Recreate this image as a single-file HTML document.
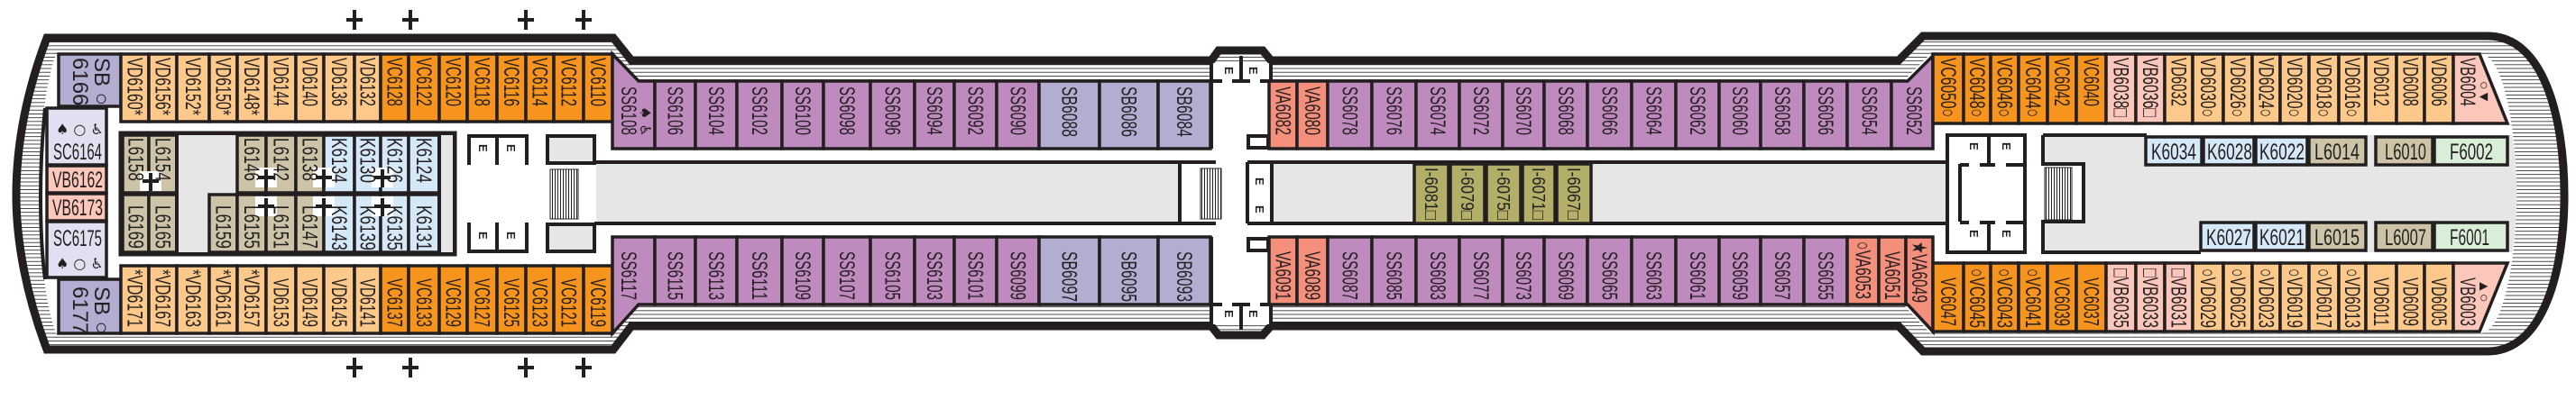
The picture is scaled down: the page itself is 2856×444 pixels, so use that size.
<!DOCTYPE html>
<html><head><meta charset="utf-8"><style>
html,body{margin:0;padding:0;background:#fff;}
svg{display:block;}
.c{stroke:#231f20;stroke-width:3.5;}
.vd{fill:#fcc98b}.vc{fill:#f7941d}.ss{fill:#bf8bbf}.sb{fill:#b2aed2}.va{fill:#f48f7c}.vb{fill:#fcc7bb}
.l{fill:#cdc3a7}.k{fill:#d5e8f8}.f{fill:#d9eed6}.i{fill:#b3ae68}.sc{fill:#e2dff0}.g{fill:#e6e6e6}
text{font-family:"Liberation Sans Narrow","Liberation Sans",sans-serif;fill:#231f20;}
.t{font-size:24px;}
.h{font-size:25px;}
.ic{font-family:"DejaVu Sans",sans-serif;font-size:16px;fill:#231f20;}
.e{font-size:13px;fill:#1a3a8a;font-weight:bold;}
.w{fill:none;stroke:#231f20;stroke-width:4;}
</style></head><body>
<svg width="2856" height="444" viewBox="0 0 2856 444" xmlns="http://www.w3.org/2000/svg">
<defs>
<pattern id="hz" width="10" height="4.2" patternUnits="userSpaceOnUse"><rect width="10" height="4.2" fill="#fff"/><rect y="0" width="10" height="0.8" fill="#231f20"/></pattern>
<pattern id="st" width="3" height="10" patternUnits="userSpaceOnUse"><rect width="3" height="10" fill="#fff"/><rect width="1" height="10" fill="#231f20"/></pattern>
</defs>

<!-- hull -->
<path d="M52,42 L680,42 L700,67 L1343,67 L1351,56 L1400,56 L1409,67 L2105,67 L2132,40 L2758,40 C2820,40 2843,130 2843,217 C2843,300 2820,390 2758,390 L2132,390 L2105,362 L1409,362 L1400,372 L1351,372 L1343,362 L700,362 L680,388 L52,388 C30,330 18,270 18,217 C18,160 30,100 52,42 Z" fill="url(#hz)" stroke="#231f20" stroke-width="9"/>
<!-- inner deck -->
<path d="M62,60 L679,60 L708,90 L1343,90 L1343,338 L708,338 L679,370 L62,370 C48,330 44,270 44,217 C44,160 48,100 62,60 Z" fill="#fff"/>
<path d="M1409,90 L2110,90 L2140,60 L2750,60 C2775,60 2790,140 2790,217 C2790,290 2775,370 2750,370 L2140,370 L2110,338 L1409,338 Z" fill="#fff"/>
<rect x="1343" y="90" width="66" height="248" fill="#fff"/>
<path d="M50,120 C46,160 45,190 45,217 C45,250 46,280 50,310" class="w" stroke-width="6"/>

<!-- plus signs -->
<g stroke="#231f20" stroke-width="4">
<path d="M384,22h18M393,11v22M446,22h18M455,11v22M574,22h18M583,11v22M638,22h18M647,11v22"/>
<path d="M384,408h18M393,397v22M446,408h18M455,397v22M574,408h18M583,397v22M638,408h18M647,397v22"/>
</g>

<!-- LEFT BOW ROOMS -->
<rect class="c sb" x="65" y="60" width="69" height="58"/>
<text class="t" transform="translate(112,64) rotate(90)" y="7">SB ○</text>
<text class="t" transform="translate(88,64) rotate(90)" y="7">6166</text>
<rect class="c sc" x="52" y="120" width="66" height="63"/>
<text class="ic" x="62" y="149">♠ ○ ♿&#xFE0E;</text>
<text class="h" x="59" y="177" textLength="54" lengthAdjust="spacingAndGlyphs">SC6164</text>
<rect class="c vb" x="52" y="184" width="66" height="30"/>
<text class="h" x="58" y="208" textLength="56" lengthAdjust="spacingAndGlyphs">VB6162</text>
<rect class="c vb" x="52" y="215" width="66" height="30"/>
<text class="h" x="58" y="239" textLength="56" lengthAdjust="spacingAndGlyphs">VB6173</text>
<rect class="c sc" x="52" y="246" width="66" height="62"/>
<text class="h" x="59" y="273" textLength="54" lengthAdjust="spacingAndGlyphs">SC6175</text>
<text class="ic" x="62" y="298">♠ ○ ♿&#xFE0E;</text>
<rect class="c sb" x="65" y="310" width="69" height="60"/>
<text class="t" transform="translate(112,318) rotate(90)" y="7">SB ○</text>
<text class="t" transform="translate(88,318) rotate(90)" y="7">6177</text>

<!-- LEFT TOP ROW -->
<g class="c">
<rect class="vd" x="134" y="60" width="31" height="75"/><rect class="vd" x="165" y="60" width="31" height="75"/><rect class="vd" x="196" y="60" width="36" height="75"/><rect class="vd" x="232" y="60" width="31" height="75"/><rect class="vd" x="263" y="60" width="32" height="75"/><rect class="vd" x="295" y="60" width="33" height="75"/><rect class="vd" x="328" y="60" width="31" height="75"/><rect class="vd" x="359" y="60" width="34" height="75"/><rect class="vd" x="393" y="60" width="29" height="75"/>
<rect class="vc" x="422" y="60" width="31" height="75"/><rect class="vc" x="453" y="60" width="34" height="75"/><rect class="vc" x="487" y="60" width="31" height="75"/><rect class="vc" x="518" y="60" width="33" height="75"/><rect class="vc" x="551" y="60" width="32" height="75"/><rect class="vc" x="583" y="60" width="31" height="75"/><rect class="vc" x="614" y="60" width="33" height="75"/><rect class="vc" x="647" y="60" width="32" height="75"/>
</g>
<g class="t">
<text transform="translate(149.5,64) rotate(90)" y="8" textLength="64" lengthAdjust="spacingAndGlyphs">VD6160*</text>
<text transform="translate(180.5,64) rotate(90)" y="8" textLength="64" lengthAdjust="spacingAndGlyphs">VD6156*</text>
<text transform="translate(214,64) rotate(90)" y="8" textLength="64" lengthAdjust="spacingAndGlyphs">VD6152*</text>
<text transform="translate(247.5,64) rotate(90)" y="8" textLength="64" lengthAdjust="spacingAndGlyphs">VD6150*</text>
<text transform="translate(279,64) rotate(90)" y="8" textLength="64" lengthAdjust="spacingAndGlyphs">VD6148*</text>
<text transform="translate(311.5,64) rotate(90)" y="8" textLength="54" lengthAdjust="spacingAndGlyphs">VD6144</text>
<text transform="translate(343.5,64) rotate(90)" y="8" textLength="54" lengthAdjust="spacingAndGlyphs">VD6140</text>
<text transform="translate(376,64) rotate(90)" y="8" textLength="54" lengthAdjust="spacingAndGlyphs">VD6136</text>
<text transform="translate(407.5,64) rotate(90)" y="8" textLength="54" lengthAdjust="spacingAndGlyphs">VD6132</text>
<text transform="translate(437.5,64) rotate(90)" y="8" textLength="54" lengthAdjust="spacingAndGlyphs">VC6128</text>
<text transform="translate(470,64) rotate(90)" y="8" textLength="54" lengthAdjust="spacingAndGlyphs">VC6122</text>
<text transform="translate(502.5,64) rotate(90)" y="8" textLength="54" lengthAdjust="spacingAndGlyphs">VC6120</text>
<text transform="translate(534.5,64) rotate(90)" y="8" textLength="54" lengthAdjust="spacingAndGlyphs">VC6118</text>
<text transform="translate(567,64) rotate(90)" y="8" textLength="54" lengthAdjust="spacingAndGlyphs">VC6116</text>
<text transform="translate(598.5,64) rotate(90)" y="8" textLength="54" lengthAdjust="spacingAndGlyphs">VC6114</text>
<text transform="translate(630.5,64) rotate(90)" y="8" textLength="54" lengthAdjust="spacingAndGlyphs">VC6112</text>
<text transform="translate(663,64) rotate(90)" y="8" textLength="54" lengthAdjust="spacingAndGlyphs">VC6110</text>
</g>

<!-- LEFT BOTTOM ROW -->
<g class="c">
<rect class="vd" x="134" y="295" width="31" height="75"/><rect class="vd" x="165" y="295" width="31" height="75"/><rect class="vd" x="196" y="295" width="36" height="75"/><rect class="vd" x="232" y="295" width="31" height="75"/><rect class="vd" x="263" y="295" width="32" height="75"/><rect class="vd" x="295" y="295" width="33" height="75"/><rect class="vd" x="328" y="295" width="31" height="75"/><rect class="vd" x="359" y="295" width="34" height="75"/><rect class="vd" x="393" y="295" width="29" height="75"/>
<rect class="vc" x="422" y="295" width="31" height="75"/><rect class="vc" x="453" y="295" width="34" height="75"/><rect class="vc" x="487" y="295" width="31" height="75"/><rect class="vc" x="518" y="295" width="33" height="75"/><rect class="vc" x="551" y="295" width="32" height="75"/><rect class="vc" x="583" y="295" width="31" height="75"/><rect class="vc" x="614" y="295" width="33" height="75"/><rect class="vc" x="647" y="295" width="32" height="75"/>
</g>
<g class="t">
<text transform="translate(149.5,299) rotate(90)" y="8" textLength="64" lengthAdjust="spacingAndGlyphs">*VD6171</text>
<text transform="translate(180.5,299) rotate(90)" y="8" textLength="64" lengthAdjust="spacingAndGlyphs">*VD6167</text>
<text transform="translate(214,299) rotate(90)" y="8" textLength="64" lengthAdjust="spacingAndGlyphs">*VD6163</text>
<text transform="translate(247.5,299) rotate(90)" y="8" textLength="64" lengthAdjust="spacingAndGlyphs">*VD6161</text>
<text transform="translate(279,299) rotate(90)" y="8" textLength="64" lengthAdjust="spacingAndGlyphs">*VD6157</text>
<text transform="translate(311.5,309) rotate(90)" y="8" textLength="54" lengthAdjust="spacingAndGlyphs">VD6153</text>
<text transform="translate(343.5,309) rotate(90)" y="8" textLength="54" lengthAdjust="spacingAndGlyphs">VD6149</text>
<text transform="translate(376,309) rotate(90)" y="8" textLength="54" lengthAdjust="spacingAndGlyphs">VD6145</text>
<text transform="translate(407.5,309) rotate(90)" y="8" textLength="54" lengthAdjust="spacingAndGlyphs">VD6141</text>
<text transform="translate(437.5,309) rotate(90)" y="8" textLength="54" lengthAdjust="spacingAndGlyphs">VC6137</text>
<text transform="translate(470,309) rotate(90)" y="8" textLength="54" lengthAdjust="spacingAndGlyphs">VC6133</text>
<text transform="translate(502.5,309) rotate(90)" y="8" textLength="54" lengthAdjust="spacingAndGlyphs">VC6129</text>
<text transform="translate(534.5,309) rotate(90)" y="8" textLength="54" lengthAdjust="spacingAndGlyphs">VC6127</text>
<text transform="translate(567,309) rotate(90)" y="8" textLength="54" lengthAdjust="spacingAndGlyphs">VC6125</text>
<text transform="translate(598.5,309) rotate(90)" y="8" textLength="54" lengthAdjust="spacingAndGlyphs">VC6123</text>
<text transform="translate(630.5,309) rotate(90)" y="8" textLength="54" lengthAdjust="spacingAndGlyphs">VC6121</text>
<text transform="translate(663,309) rotate(90)" y="8" textLength="54" lengthAdjust="spacingAndGlyphs">VC6119</text>
</g>

<!-- LEFT MIDDLE BLOCK -->
<rect x="134" y="148" width="370" height="134" fill="#fff" stroke="#231f20" stroke-width="5"/>
<rect class="g" x="198" y="150" width="64" height="64"/><rect class="g" x="198" y="214" width="34" height="66"/>
<rect class="g" x="489" y="150" width="13" height="130"/>
<g class="c">
<rect class="l" x="136" y="150" width="29" height="64"/><rect class="l" x="165" y="150" width="31" height="64"/>
<rect class="l" x="263" y="150" width="32" height="64"/><rect class="l" x="295" y="150" width="33" height="64"/><rect class="l" x="328" y="150" width="31" height="64"/>
<rect class="k" x="359" y="150" width="34" height="64"/><rect class="k" x="393" y="150" width="29" height="64"/><rect class="k" x="422" y="150" width="31" height="64"/><rect class="k" x="453" y="150" width="34" height="64"/>
<rect class="l" x="136" y="216" width="29" height="64"/><rect class="l" x="165" y="216" width="31" height="64"/>
<rect class="l" x="232" y="216" width="31" height="64"/><rect class="l" x="263" y="216" width="32" height="64"/><rect class="l" x="295" y="216" width="33" height="64"/><rect class="l" x="328" y="216" width="31" height="64"/>
<rect class="k" x="359" y="216" width="34" height="64"/><rect class="k" x="393" y="216" width="29" height="64"/><rect class="k" x="422" y="216" width="31" height="64"/><rect class="k" x="453" y="216" width="34" height="64"/>
</g>
<line x1="196" y1="148" x2="196" y2="282" stroke="#231f20" stroke-width="4"/>
<line x1="487" y1="148" x2="487" y2="282" stroke="#231f20" stroke-width="4"/>
<g>
<rect x="155" y="190" width="24" height="22" fill="#fff"/><rect x="283" y="186" width="24" height="22" fill="#fff"/><rect x="347" y="186" width="24" height="22" fill="#fff"/><rect x="412" y="186" width="24" height="22" fill="#fff"/>
<rect x="283" y="218" width="24" height="22" fill="#fff"/><rect x="347" y="218" width="24" height="22" fill="#fff"/><rect x="412" y="218" width="24" height="22" fill="#fff"/>
</g>
<g class="t">
<text transform="translate(150.5,153) rotate(90)" y="8" textLength="48" lengthAdjust="spacingAndGlyphs">L6158</text>
<text transform="translate(180.5,153) rotate(90)" y="8" textLength="48" lengthAdjust="spacingAndGlyphs">L6154</text>
<text transform="translate(279,153) rotate(90)" y="8" textLength="48" lengthAdjust="spacingAndGlyphs">L6146</text>
<text transform="translate(311.5,153) rotate(90)" y="8" textLength="48" lengthAdjust="spacingAndGlyphs">L6142</text>
<text transform="translate(343.5,153) rotate(90)" y="8" textLength="48" lengthAdjust="spacingAndGlyphs">L6138</text>
<text transform="translate(376,153) rotate(90)" y="8" textLength="50" lengthAdjust="spacingAndGlyphs">K6134</text>
<text transform="translate(407.5,153) rotate(90)" y="8" textLength="50" lengthAdjust="spacingAndGlyphs">K6130</text>
<text transform="translate(437.5,153) rotate(90)" y="8" textLength="50" lengthAdjust="spacingAndGlyphs">K6126</text>
<text transform="translate(470,153) rotate(90)" y="8" textLength="50" lengthAdjust="spacingAndGlyphs">K6124</text>
<text transform="translate(150.5,228) rotate(90)" y="8" textLength="48" lengthAdjust="spacingAndGlyphs">L6169</text>
<text transform="translate(180.5,228) rotate(90)" y="8" textLength="48" lengthAdjust="spacingAndGlyphs">L6165</text>
<text transform="translate(247.5,228) rotate(90)" y="8" textLength="48" lengthAdjust="spacingAndGlyphs">L6159</text>
<text transform="translate(279,228) rotate(90)" y="8" textLength="48" lengthAdjust="spacingAndGlyphs">L6155</text>
<text transform="translate(311.5,228) rotate(90)" y="8" textLength="48" lengthAdjust="spacingAndGlyphs">L6151</text>
<text transform="translate(343.5,228) rotate(90)" y="8" textLength="48" lengthAdjust="spacingAndGlyphs">L6147</text>
<text transform="translate(376,228) rotate(90)" y="8" textLength="50" lengthAdjust="spacingAndGlyphs">K6143</text>
<text transform="translate(407.5,228) rotate(90)" y="8" textLength="50" lengthAdjust="spacingAndGlyphs">K6139</text>
<text transform="translate(437.5,228) rotate(90)" y="8" textLength="50" lengthAdjust="spacingAndGlyphs">K6135</text>
<text transform="translate(470,228) rotate(90)" y="8" textLength="50" lengthAdjust="spacingAndGlyphs">K6131</text>
</g>
<path d="M158,201h18M167,192v20M286,197h18M295,188v20M350,197h18M359,188v20M415,197h18M424,188v20M286,229h18M295,220v20M350,229h18M359,220v20M415,229h18M424,220v20" stroke="#231f20" stroke-width="4"/>

<!-- left elevators & stairs -->
<path d="M520,183 V151 H584 V183 M551,151 V183" class="w"/>
<path d="M520,247 V279 H584 V247 M551,247 V279" class="w"/>
<g class="e"><text transform="translate(531,160) rotate(90)">E</text><text transform="translate(562,160) rotate(90)">E</text><text transform="translate(531,257) rotate(90)">E</text><text transform="translate(562,257) rotate(90)">E</text></g>
<rect x="607" y="151" width="52" height="30" class="g" stroke="#231f20" stroke-width="4"/>
<rect x="607" y="249" width="52" height="30" class="g" stroke="#231f20" stroke-width="4"/>
<rect x="610" y="188" width="31" height="55" fill="url(#st)" stroke="#231f20" stroke-width="1"/>

<!-- middle corridor block -->
<rect class="g" x="661" y="181" width="647" height="66"/>
<path d="M659,180 H1348 M659,248 H1348 M1308,180 V248" class="w"/>
<rect x="1331" y="187" width="23" height="56" fill="url(#st)" stroke="#231f20" stroke-width="1"/>

<!-- MID TOP ROW -->
<g class="c">
<polygon class="ss" points="679,60 708,90 726,90 726,165 679,165"/>
<rect class="ss" x="726" y="90" width="45" height="75"/><rect class="ss" x="771" y="90" width="46" height="75"/><rect class="ss" x="817" y="90" width="50" height="75"/><rect class="ss" x="867" y="90" width="46" height="75"/><rect class="ss" x="913" y="90" width="52" height="75"/><rect class="ss" x="965" y="90" width="49" height="75"/><rect class="ss" x="1014" y="90" width="44" height="75"/><rect class="ss" x="1058" y="90" width="47" height="75"/><rect class="ss" x="1105" y="90" width="47" height="75"/>
<rect class="sb" x="1152" y="90" width="67" height="75"/><rect class="sb" x="1219" y="90" width="65" height="75"/><rect class="sb" x="1284" y="90" width="58" height="75"/>
<polygon class="ss" points="679,263 726,263 726,338 708,338 679,370"/>
<rect class="ss" x="726" y="263" width="45" height="75"/><rect class="ss" x="771" y="263" width="46" height="75"/><rect class="ss" x="817" y="263" width="50" height="75"/><rect class="ss" x="867" y="263" width="46" height="75"/><rect class="ss" x="913" y="263" width="52" height="75"/><rect class="ss" x="965" y="263" width="49" height="75"/><rect class="ss" x="1014" y="263" width="44" height="75"/><rect class="ss" x="1058" y="263" width="47" height="75"/><rect class="ss" x="1105" y="263" width="47" height="75"/>
<rect class="sb" x="1152" y="263" width="67" height="75"/><rect class="sb" x="1219" y="263" width="65" height="75"/><rect class="sb" x="1284" y="263" width="58" height="75"/>
</g>
<text class="ic" transform="translate(710,118) rotate(90)" font-size="13">♠ ♿&#xFE0E;</text>
<g class="t">
<text transform="translate(697,96) rotate(90)" y="8" textLength="54" lengthAdjust="spacingAndGlyphs">SS6108</text>
<text transform="translate(748.5,96) rotate(90)" y="8" textLength="54" lengthAdjust="spacingAndGlyphs">SS6106</text>
<text transform="translate(794,96) rotate(90)" y="8" textLength="54" lengthAdjust="spacingAndGlyphs">SS6104</text>
<text transform="translate(842,96) rotate(90)" y="8" textLength="54" lengthAdjust="spacingAndGlyphs">SS6102</text>
<text transform="translate(890,96) rotate(90)" y="8" textLength="54" lengthAdjust="spacingAndGlyphs">SS6100</text>
<text transform="translate(939,96) rotate(90)" y="8" textLength="54" lengthAdjust="spacingAndGlyphs">SS6098</text>
<text transform="translate(989.5,96) rotate(90)" y="8" textLength="54" lengthAdjust="spacingAndGlyphs">SS6096</text>
<text transform="translate(1036,96) rotate(90)" y="8" textLength="54" lengthAdjust="spacingAndGlyphs">SS6094</text>
<text transform="translate(1081.5,96) rotate(90)" y="8" textLength="54" lengthAdjust="spacingAndGlyphs">SS6092</text>
<text transform="translate(1128.5,96) rotate(90)" y="8" textLength="54" lengthAdjust="spacingAndGlyphs">SS6090</text>
<text transform="translate(1185.5,96) rotate(90)" y="8" textLength="56" lengthAdjust="spacingAndGlyphs">SB6088</text>
<text transform="translate(1251.5,96) rotate(90)" y="8" textLength="56" lengthAdjust="spacingAndGlyphs">SB6086</text>
<text transform="translate(1313,96) rotate(90)" y="8" textLength="56" lengthAdjust="spacingAndGlyphs">SB6084</text>
<text transform="translate(697,279) rotate(90)" y="8" textLength="54" lengthAdjust="spacingAndGlyphs">SS6117</text>
<text transform="translate(748.5,279) rotate(90)" y="8" textLength="54" lengthAdjust="spacingAndGlyphs">SS6115</text>
<text transform="translate(794,279) rotate(90)" y="8" textLength="54" lengthAdjust="spacingAndGlyphs">SS6113</text>
<text transform="translate(842,279) rotate(90)" y="8" textLength="54" lengthAdjust="spacingAndGlyphs">SS6111</text>
<text transform="translate(890,279) rotate(90)" y="8" textLength="54" lengthAdjust="spacingAndGlyphs">SS6109</text>
<text transform="translate(939,279) rotate(90)" y="8" textLength="54" lengthAdjust="spacingAndGlyphs">SS6107</text>
<text transform="translate(989.5,279) rotate(90)" y="8" textLength="54" lengthAdjust="spacingAndGlyphs">SS6105</text>
<text transform="translate(1036,279) rotate(90)" y="8" textLength="54" lengthAdjust="spacingAndGlyphs">SS6103</text>
<text transform="translate(1081.5,279) rotate(90)" y="8" textLength="54" lengthAdjust="spacingAndGlyphs">SS6101</text>
<text transform="translate(1128.5,279) rotate(90)" y="8" textLength="54" lengthAdjust="spacingAndGlyphs">SS6099</text>
<text transform="translate(1185.5,279) rotate(90)" y="8" textLength="56" lengthAdjust="spacingAndGlyphs">SB6097</text>
<text transform="translate(1251.5,279) rotate(90)" y="8" textLength="56" lengthAdjust="spacingAndGlyphs">SB6095</text>
<text transform="translate(1313,279) rotate(90)" y="8" textLength="56" lengthAdjust="spacingAndGlyphs">SB6093</text>
</g>

<!-- WAIST -->
<rect x="1345" y="70" width="62" height="20" fill="#fff"/>
<rect x="1345" y="338" width="62" height="22" fill="#fff"/>
<path d="M1343,90 V67 M1409,90 V67 M1376,62 V90 M1343,338 V362 M1409,338 V362 M1376,338 V366" class="w"/>
<path d="M1343,90 H1355 M1366,90 H1386 M1397,90 H1409 M1343,338 H1355 M1366,338 H1386 M1397,338 H1409" class="w"/>
<g class="e"><text transform="translate(1358,74) rotate(90)">E</text><text transform="translate(1385,74) rotate(90)">E</text><text transform="translate(1358,344) rotate(90)">E</text><text transform="translate(1385,344) rotate(90)">E</text></g>
<rect x="1384" y="151" width="22" height="13" fill="#fff" stroke="#231f20" stroke-width="4"/>
<rect x="1384" y="265" width="22" height="13" fill="#fff" stroke="#231f20" stroke-width="4"/>
<line x1="1343" y1="90" x2="1343" y2="165" stroke="#231f20" stroke-width="4"/>
<line x1="1343" y1="263" x2="1343" y2="338" stroke="#231f20" stroke-width="4"/>

<!-- middle block 2 -->
<rect class="g" x="1410" y="181" width="748" height="66"/>
<path d="M1383,180 H2157 M1383,248 H2157 M1383,180 V248 M1410,180 V248" class="w"/>
<g class="e"><text transform="translate(1392,197) rotate(90)">E</text><text transform="translate(1392,228) rotate(90)">E</text></g>
<g class="c">
<rect class="i" x="1568" y="182" width="38" height="66"/><rect class="i" x="1608" y="182" width="38" height="66"/><rect class="i" x="1648" y="182" width="38" height="66"/><rect class="i" x="1688" y="182" width="36" height="66"/><rect class="i" x="1726" y="182" width="38" height="66"/>
</g>
<g class="t">
<text transform="translate(1587,186) rotate(90)" y="7" font-size="20" textLength="58" lengthAdjust="spacingAndGlyphs">I-6081□</text>
<text transform="translate(1627,186) rotate(90)" y="7" font-size="20" textLength="58" lengthAdjust="spacingAndGlyphs">I-6079□</text>
<text transform="translate(1667,186) rotate(90)" y="7" font-size="20" textLength="58" lengthAdjust="spacingAndGlyphs">I-6075□</text>
<text transform="translate(1706,186) rotate(90)" y="7" font-size="20" textLength="58" lengthAdjust="spacingAndGlyphs">I-6071□</text>
<text transform="translate(1745,186) rotate(90)" y="7" font-size="20" textLength="58" lengthAdjust="spacingAndGlyphs">I-6067□</text>
</g>

<!-- MID2 ROWS -->
<g class="c">
<rect class="va" x="1407" y="90" width="31" height="75"/><rect class="va" x="1438" y="90" width="34" height="75"/>
<rect class="ss" x="1472" y="90" width="49" height="75"/><rect class="ss" x="1521" y="90" width="49" height="75"/><rect class="ss" x="1570" y="90" width="48" height="75"/><rect class="ss" x="1618" y="90" width="48" height="75"/><rect class="ss" x="1666" y="90" width="46" height="75"/><rect class="ss" x="1712" y="90" width="48" height="75"/><rect class="ss" x="1760" y="90" width="49" height="75"/><rect class="ss" x="1809" y="90" width="49" height="75"/><rect class="ss" x="1858" y="90" width="48" height="75"/><rect class="ss" x="1906" y="90" width="46" height="75"/><rect class="ss" x="1952" y="90" width="48" height="75"/><rect class="ss" x="2000" y="90" width="48" height="75"/><rect class="ss" x="2048" y="90" width="49" height="75"/>
<polygon class="ss" points="2097,90 2115,90 2143,62 2143,165 2097,165"/>
<rect class="va" x="1407" y="263" width="31" height="75"/><rect class="va" x="1438" y="263" width="34" height="75"/>
<rect class="ss" x="1472" y="263" width="49" height="75"/><rect class="ss" x="1521" y="263" width="49" height="75"/><rect class="ss" x="1570" y="263" width="48" height="75"/><rect class="ss" x="1618" y="263" width="48" height="75"/><rect class="ss" x="1666" y="263" width="46" height="75"/><rect class="ss" x="1712" y="263" width="48" height="75"/><rect class="ss" x="1760" y="263" width="49" height="75"/><rect class="ss" x="1809" y="263" width="49" height="75"/><rect class="ss" x="1858" y="263" width="48" height="75"/><rect class="ss" x="1906" y="263" width="46" height="75"/><rect class="ss" x="1952" y="263" width="48" height="75"/><rect class="ss" x="2000" y="263" width="48" height="75"/>
<rect class="va" x="2048" y="263" width="35" height="75"/><rect class="va" x="2083" y="263" width="30" height="75"/>
<polygon class="va" points="2113,263 2143,263 2143,368 2115,338 2113,338"/>
</g>
<g class="t">
<text transform="translate(1422.5,96) rotate(90)" y="8" textLength="54" lengthAdjust="spacingAndGlyphs">VA6082</text>
<text transform="translate(1455,96) rotate(90)" y="8" textLength="54" lengthAdjust="spacingAndGlyphs">VA6080</text>
<text transform="translate(1496.5,96) rotate(90)" y="8" textLength="54" lengthAdjust="spacingAndGlyphs">SS6078</text>
<text transform="translate(1545.5,96) rotate(90)" y="8" textLength="54" lengthAdjust="spacingAndGlyphs">SS6076</text>
<text transform="translate(1594,96) rotate(90)" y="8" textLength="54" lengthAdjust="spacingAndGlyphs">SS6074</text>
<text transform="translate(1642,96) rotate(90)" y="8" textLength="54" lengthAdjust="spacingAndGlyphs">SS6072</text>
<text transform="translate(1689,96) rotate(90)" y="8" textLength="54" lengthAdjust="spacingAndGlyphs">SS6070</text>
<text transform="translate(1736,96) rotate(90)" y="8" textLength="54" lengthAdjust="spacingAndGlyphs">SS6068</text>
<text transform="translate(1784.5,96) rotate(90)" y="8" textLength="54" lengthAdjust="spacingAndGlyphs">SS6066</text>
<text transform="translate(1833.5,96) rotate(90)" y="8" textLength="54" lengthAdjust="spacingAndGlyphs">SS6064</text>
<text transform="translate(1882,96) rotate(90)" y="8" textLength="54" lengthAdjust="spacingAndGlyphs">SS6062</text>
<text transform="translate(1929,96) rotate(90)" y="8" textLength="54" lengthAdjust="spacingAndGlyphs">SS6060</text>
<text transform="translate(1976,96) rotate(90)" y="8" textLength="54" lengthAdjust="spacingAndGlyphs">SS6058</text>
<text transform="translate(2024,96) rotate(90)" y="8" textLength="54" lengthAdjust="spacingAndGlyphs">SS6056</text>
<text transform="translate(2072.5,96) rotate(90)" y="8" textLength="54" lengthAdjust="spacingAndGlyphs">SS6054</text>
<text transform="translate(2122,96) rotate(90)" y="8" textLength="54" lengthAdjust="spacingAndGlyphs">SS6052</text>
<text transform="translate(1422.5,279) rotate(90)" y="8" textLength="54" lengthAdjust="spacingAndGlyphs">VA6091</text>
<text transform="translate(1455,279) rotate(90)" y="8" textLength="54" lengthAdjust="spacingAndGlyphs">VA6089</text>
<text transform="translate(1496.5,279) rotate(90)" y="8" textLength="54" lengthAdjust="spacingAndGlyphs">SS6087</text>
<text transform="translate(1545.5,279) rotate(90)" y="8" textLength="54" lengthAdjust="spacingAndGlyphs">SS6085</text>
<text transform="translate(1594,279) rotate(90)" y="8" textLength="54" lengthAdjust="spacingAndGlyphs">SS6083</text>
<text transform="translate(1642,279) rotate(90)" y="8" textLength="54" lengthAdjust="spacingAndGlyphs">SS6077</text>
<text transform="translate(1689,279) rotate(90)" y="8" textLength="54" lengthAdjust="spacingAndGlyphs">SS6073</text>
<text transform="translate(1736,279) rotate(90)" y="8" textLength="54" lengthAdjust="spacingAndGlyphs">SS6069</text>
<text transform="translate(1784.5,279) rotate(90)" y="8" textLength="54" lengthAdjust="spacingAndGlyphs">SS6065</text>
<text transform="translate(1833.5,279) rotate(90)" y="8" textLength="54" lengthAdjust="spacingAndGlyphs">SS6063</text>
<text transform="translate(1882,279) rotate(90)" y="8" textLength="54" lengthAdjust="spacingAndGlyphs">SS6061</text>
<text transform="translate(1929,279) rotate(90)" y="8" textLength="54" lengthAdjust="spacingAndGlyphs">SS6059</text>
<text transform="translate(1976,279) rotate(90)" y="8" textLength="54" lengthAdjust="spacingAndGlyphs">SS6057</text>
<text transform="translate(2024,279) rotate(90)" y="8" textLength="54" lengthAdjust="spacingAndGlyphs">SS6055</text>
<text transform="translate(2065.5,268) rotate(90)" y="8" textLength="64" lengthAdjust="spacingAndGlyphs">○VA6053</text>
<text transform="translate(2098,279) rotate(90)" y="8" textLength="54" lengthAdjust="spacingAndGlyphs">VA6051</text>
<text transform="translate(2128,268) rotate(90)" y="8" textLength="68" lengthAdjust="spacingAndGlyphs">★VA6049</text>
</g>

<!-- RIGHT MIDDLE -->
<rect x="2159" y="150" width="86" height="130" fill="#fff" stroke="#231f20" stroke-width="4"/>
<rect class="g" x="2145" y="182" width="12" height="64"/>
<path d="M2159,150 V280 M2173,182 V246" class="w"/>
<path d="M2173,183 H2183 M2195,183 H2212 M2224,183 H2245 M2205,150 V183 M2173,247 H2183 M2195,247 H2212 M2224,247 H2245 M2205,247 V280" class="w"/>
<g class="e"><text transform="translate(2184,158) rotate(90)">E</text><text transform="translate(2220,158) rotate(90)">E</text><text transform="translate(2184,255) rotate(90)">E</text><text transform="translate(2220,255) rotate(90)">E</text></g>
<path d="M2265,150 H2785 C2792,180 2792,250 2785,280 H2265 Z M2265,182 H2310 V246 H2265 Z" fill="#e6e6e6" fill-rule="evenodd"/>
<path d="M2265,150 H2380 M2265,150 V182 H2310 V246 H2265 V280 H2440" class="w"/>
<rect x="2267" y="186" width="30" height="58" fill="url(#st)" stroke="#231f20" stroke-width="1"/>
<g class="c">
<rect class="k" x="2379" y="152" width="62" height="31"/><rect class="k" x="2443" y="152" width="56" height="31"/><rect class="k" x="2501" y="152" width="57" height="31"/><rect class="l" x="2560" y="152" width="63" height="31"/>
<rect class="l" x="2634" y="152" width="63" height="31"/><rect class="f" x="2699" y="152" width="81" height="31"/>
<rect class="k" x="2440" y="247" width="59" height="31"/><rect class="k" x="2501" y="247" width="57" height="31"/><rect class="l" x="2560" y="247" width="63" height="31"/>
<rect class="l" x="2634" y="247" width="63" height="31"/><rect class="f" x="2699" y="247" width="81" height="31"/>
</g>
<g class="h">
<text x="2385" y="177" textLength="50" lengthAdjust="spacingAndGlyphs">K6034</text>
<text x="2447" y="177" textLength="50" lengthAdjust="spacingAndGlyphs">K6028</text>
<text x="2505" y="177" textLength="50" lengthAdjust="spacingAndGlyphs">K6022</text>
<text x="2566" y="177" textLength="50" lengthAdjust="spacingAndGlyphs">L6014</text>
<text x="2644" y="177" textLength="46" lengthAdjust="spacingAndGlyphs">L6010</text>
<text x="2716" y="177" textLength="48" lengthAdjust="spacingAndGlyphs">F6002</text>
<text x="2446" y="272" textLength="50" lengthAdjust="spacingAndGlyphs">K6027</text>
<text x="2505" y="272" textLength="50" lengthAdjust="spacingAndGlyphs">K6021</text>
<text x="2566" y="272" textLength="50" lengthAdjust="spacingAndGlyphs">L6015</text>
<text x="2644" y="272" textLength="46" lengthAdjust="spacingAndGlyphs">L6007</text>
<text x="2716" y="272" textLength="44" lengthAdjust="spacingAndGlyphs">F6001</text>
</g>

<!-- RIGHT ROWS -->
<g class="c">
<rect class="vc" x="2143" y="60" width="34" height="77"/><rect class="vc" x="2177" y="60" width="30" height="77"/><rect class="vc" x="2207" y="60" width="31" height="77"/><rect class="vc" x="2238" y="60" width="32" height="77"/><rect class="vc" x="2270" y="60" width="32" height="77"/><rect class="vc" x="2302" y="60" width="33" height="77"/>
<rect class="vb" x="2335" y="60" width="33" height="77"/><rect class="vb" x="2368" y="60" width="32" height="77"/>
<rect class="vd" x="2400" y="60" width="31" height="77"/><rect class="vd" x="2431" y="60" width="34" height="77"/><rect class="vd" x="2465" y="60" width="32" height="77"/><rect class="vd" x="2497" y="60" width="31" height="77"/><rect class="vd" x="2528" y="60" width="32" height="77"/><rect class="vd" x="2560" y="60" width="33" height="77"/><rect class="vd" x="2593" y="60" width="30" height="77"/><rect class="vd" x="2623" y="60" width="34" height="77"/><rect class="vd" x="2657" y="60" width="31" height="77"/><rect class="vd" x="2688" y="60" width="32" height="77"/>
<polygon class="vb" points="2720,60 2749,60 2780,137 2720,137"/>
<rect class="vc" x="2143" y="292" width="34" height="76"/><rect class="vc" x="2177" y="292" width="30" height="76"/><rect class="vc" x="2207" y="292" width="31" height="76"/><rect class="vc" x="2238" y="292" width="32" height="76"/><rect class="vc" x="2270" y="292" width="32" height="76"/><rect class="vc" x="2302" y="292" width="33" height="76"/>
<rect class="vb" x="2335" y="292" width="33" height="76"/><rect class="vb" x="2368" y="292" width="32" height="76"/><rect class="vb" x="2400" y="292" width="31" height="76"/>
<rect class="vd" x="2431" y="292" width="34" height="76"/><rect class="vd" x="2465" y="292" width="32" height="76"/><rect class="vd" x="2497" y="292" width="31" height="76"/><rect class="vd" x="2528" y="292" width="32" height="76"/><rect class="vd" x="2560" y="292" width="33" height="76"/><rect class="vd" x="2593" y="292" width="30" height="76"/><rect class="vd" x="2623" y="292" width="34" height="76"/><rect class="vd" x="2657" y="292" width="31" height="76"/><rect class="vd" x="2688" y="292" width="32" height="76"/>
<polygon class="vb" points="2720,292 2780,292 2749,368 2720,368"/>
</g>
<g class="t">
<text transform="translate(2160,64) rotate(90)" y="8" textLength="66" lengthAdjust="spacingAndGlyphs">VC6050○</text>
<text transform="translate(2192,64) rotate(90)" y="8" textLength="66" lengthAdjust="spacingAndGlyphs">VC6048○</text>
<text transform="translate(2222.5,64) rotate(90)" y="8" textLength="66" lengthAdjust="spacingAndGlyphs">VC6046○</text>
<text transform="translate(2254,64) rotate(90)" y="8" textLength="66" lengthAdjust="spacingAndGlyphs">VC6044○</text>
<text transform="translate(2286,64) rotate(90)" y="8" textLength="54" lengthAdjust="spacingAndGlyphs">VC6042</text>
<text transform="translate(2318.5,64) rotate(90)" y="8" textLength="54" lengthAdjust="spacingAndGlyphs">VC6040</text>
<text transform="translate(2351.5,64) rotate(90)" y="8" textLength="66" lengthAdjust="spacingAndGlyphs">VB6038□</text>
<text transform="translate(2384,64) rotate(90)" y="8" textLength="66" lengthAdjust="spacingAndGlyphs">VB6036□</text>
<text transform="translate(2415.5,64) rotate(90)" y="8" textLength="54" lengthAdjust="spacingAndGlyphs">VD6032</text>
<text transform="translate(2448,64) rotate(90)" y="8" textLength="66" lengthAdjust="spacingAndGlyphs">VD6030○</text>
<text transform="translate(2481,64) rotate(90)" y="8" textLength="66" lengthAdjust="spacingAndGlyphs">VD6026○</text>
<text transform="translate(2512.5,64) rotate(90)" y="8" textLength="66" lengthAdjust="spacingAndGlyphs">VD6024○</text>
<text transform="translate(2544,64) rotate(90)" y="8" textLength="66" lengthAdjust="spacingAndGlyphs">VD6020○</text>
<text transform="translate(2576.5,64) rotate(90)" y="8" textLength="66" lengthAdjust="spacingAndGlyphs">VD6018○</text>
<text transform="translate(2608,64) rotate(90)" y="8" textLength="66" lengthAdjust="spacingAndGlyphs">VD6016○</text>
<text transform="translate(2640,64) rotate(90)" y="8" textLength="54" lengthAdjust="spacingAndGlyphs">VD6012</text>
<text transform="translate(2672.5,64) rotate(90)" y="8" textLength="54" lengthAdjust="spacingAndGlyphs">VD6008</text>
<text transform="translate(2704,64) rotate(90)" y="8" textLength="54" lengthAdjust="spacingAndGlyphs">VD6006</text>
<text transform="translate(2736,64) rotate(90)" y="8" textLength="54" lengthAdjust="spacingAndGlyphs">VB6004</text>
<text transform="translate(2756,90) rotate(90)" y="7" font-size="16">○▼</text>
<text transform="translate(2160,308) rotate(90)" y="8" textLength="54" lengthAdjust="spacingAndGlyphs">VC6047</text>
<text transform="translate(2192,298) rotate(90)" y="8" textLength="66" lengthAdjust="spacingAndGlyphs">○VC6045</text>
<text transform="translate(2222.5,298) rotate(90)" y="8" textLength="66" lengthAdjust="spacingAndGlyphs">○VC6043</text>
<text transform="translate(2254,298) rotate(90)" y="8" textLength="66" lengthAdjust="spacingAndGlyphs">○VC6041</text>
<text transform="translate(2286,308) rotate(90)" y="8" textLength="54" lengthAdjust="spacingAndGlyphs">VC6039</text>
<text transform="translate(2318.5,308) rotate(90)" y="8" textLength="54" lengthAdjust="spacingAndGlyphs">VC6037</text>
<text transform="translate(2351.5,298) rotate(90)" y="8" textLength="66" lengthAdjust="spacingAndGlyphs">□VB6035</text>
<text transform="translate(2384,298) rotate(90)" y="8" textLength="66" lengthAdjust="spacingAndGlyphs">□VB6033</text>
<text transform="translate(2415.5,298) rotate(90)" y="8" textLength="66" lengthAdjust="spacingAndGlyphs">□VB6031</text>
<text transform="translate(2448,298) rotate(90)" y="8" textLength="66" lengthAdjust="spacingAndGlyphs">○VD6029</text>
<text transform="translate(2481,298) rotate(90)" y="8" textLength="66" lengthAdjust="spacingAndGlyphs">○VD6025</text>
<text transform="translate(2512.5,298) rotate(90)" y="8" textLength="66" lengthAdjust="spacingAndGlyphs">○VD6023</text>
<text transform="translate(2544,298) rotate(90)" y="8" textLength="66" lengthAdjust="spacingAndGlyphs">○VD6019</text>
<text transform="translate(2576.5,298) rotate(90)" y="8" textLength="66" lengthAdjust="spacingAndGlyphs">○VD6017</text>
<text transform="translate(2608,298) rotate(90)" y="8" textLength="66" lengthAdjust="spacingAndGlyphs">○VD6013</text>
<text transform="translate(2640,308) rotate(90)" y="8" textLength="54" lengthAdjust="spacingAndGlyphs">VD6011</text>
<text transform="translate(2672.5,308) rotate(90)" y="8" textLength="54" lengthAdjust="spacingAndGlyphs">VD6009</text>
<text transform="translate(2704,308) rotate(90)" y="8" textLength="54" lengthAdjust="spacingAndGlyphs">VD6005</text>
<text transform="translate(2736,308) rotate(90)" y="8" textLength="54" lengthAdjust="spacingAndGlyphs">VB6003</text>
<text transform="translate(2756,310) rotate(90)" y="7" font-size="16">▲○</text>
</g>
</svg>
</body></html>
